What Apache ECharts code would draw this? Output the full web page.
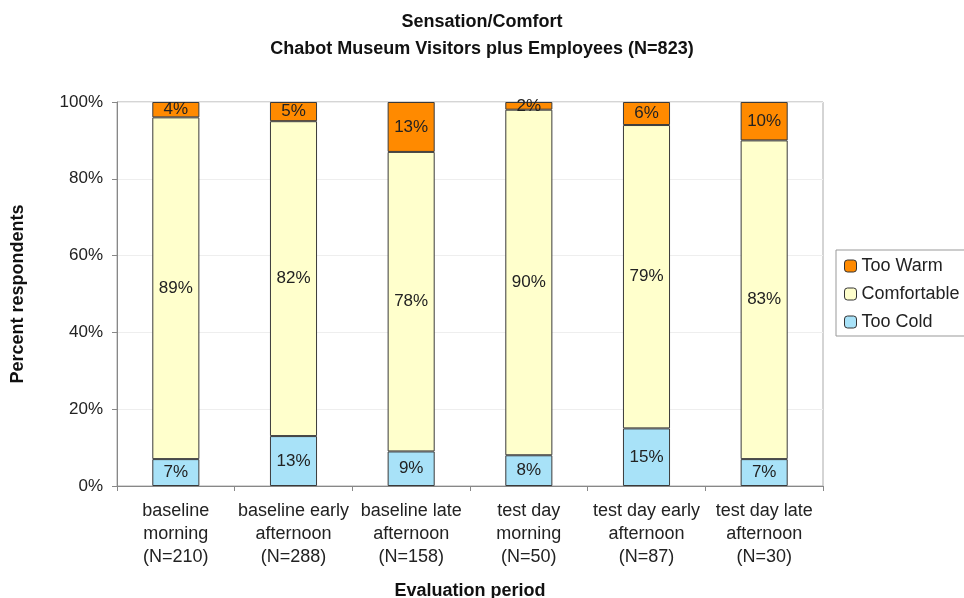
<!DOCTYPE html>
<html>
<head>
<meta charset="utf-8">
<script src="https://cdn.jsdelivr.net/npm/echarts@6/dist/echarts.min.js"></script>
<style>
  html, body { margin: 0; padding: 0; background: #fff; }
  #main { width: 964px; height: 598px; }
</style>
</head>
<body>
<div id="main"></div>
<script>
// evaluation periods
var categories = [
  'baseline\nmorning\n(N=210)',
  'baseline early\nafternoon\n(N=288)',
  'baseline late\nafternoon\n(N=158)',
  'test day\nmorning\n(N=50)',
  'test day early\nafternoon\n(N=87)',
  'test day late\nafternoon\n(N=30)'
];
var tooCold = [7, 13, 9, 8, 15, 7];
var comfortable = [89, 82, 78, 90, 79, 83];
var tooWarm = [4, 5, 13, 2, 6, 10];
var yTicks = [0, 20, 40, 60, 80, 100];

var myChart = echarts.init(document.getElementById('main'));
var font = 'Liberation Sans, Arial, sans-serif';

function bar(name, data, color) {
  return {
    name: name,
    type: 'bar',
    stack: 'total',
    barWidth: '40%',
    data: data,
    itemStyle: { color: color, borderColor: '#3a3a3a', borderWidth: 1 },
    label: {
      show: true,
      position: 'inside',
      formatter: '{c}%',
      fontFamily: font,
      fontSize: 17,
      color: '#222'
    }
  };
}

var option = {
  animation: false,
  textStyle: { fontFamily: font },
  title: {
    text: 'Sensation/Comfort\nChabot Museum Visitors plus Employees (N=823)',
    left: 'center',
    top: 4,
    textStyle: { fontSize: 18, fontWeight: 'bold', color: '#111', lineHeight: 27, fontFamily: font }
  },
  legend: {
    orient: 'vertical',
    left: 836,
    top: 250,
    padding: [7, 20, 5, 8],
    itemGap: 10,
    itemWidth: 12,
    itemHeight: 12,
    borderColor: '#999',
    borderWidth: 1,
    data: ['Too Warm', 'Comfortable', 'Too Cold'],
    itemStyle: { borderColor: '#333', borderWidth: 1 },
    textStyle: { fontSize: 18, color: '#222', fontFamily: font }
  },
  grid: {
    left: 117,
    right: 141,
    top: 102,
    bottom: 112,
    containLabel: false,
    outerBoundsMode: 'none',
    show: true,
    borderColor: '#aaa',
    borderWidth: 1
  },
  xAxis: {
    type: 'category',
    data: categories,
    name: 'Evaluation period',
    nameLocation: 'middle',
    nameGap: 96,
    nameTextStyle: { fontSize: 18, fontWeight: 'bold', color: '#111' },
    axisLine: { lineStyle: { color: '#888' } },
    axisTick: { show: true, length: 5, lineStyle: { color: '#888' } },
    axisLabel: { fontSize: 18, color: '#222', lineHeight: 23, margin: 14, interval: 0 }
  },
  yAxis: {
    type: 'value',
    min: yTicks[0],
    max: yTicks[yTicks.length - 1],
    interval: 20,
    name: 'Percent respondents',
    nameLocation: 'middle',
    nameGap: 90,
    nameTextStyle: { fontSize: 18, fontWeight: 'bold', color: '#111' },
    axisLine: { show: true, lineStyle: { color: '#888' } },
    axisTick: { show: true, length: 5, lineStyle: { color: '#888' } },
    axisLabel: { formatter: '{value}%', fontSize: 17, color: '#222', margin: 14 },
    splitLine: { lineStyle: { color: '#eee' } }
  },
  series: [
    bar('Too Cold', tooCold, '#a8e2f8'),
    bar('Comfortable', comfortable, '#ffffcc'),
    bar('Too Warm', tooWarm, '#ff8a00')
  ]
};

option && myChart.setOption(option);
</script>
</body>
</html>
